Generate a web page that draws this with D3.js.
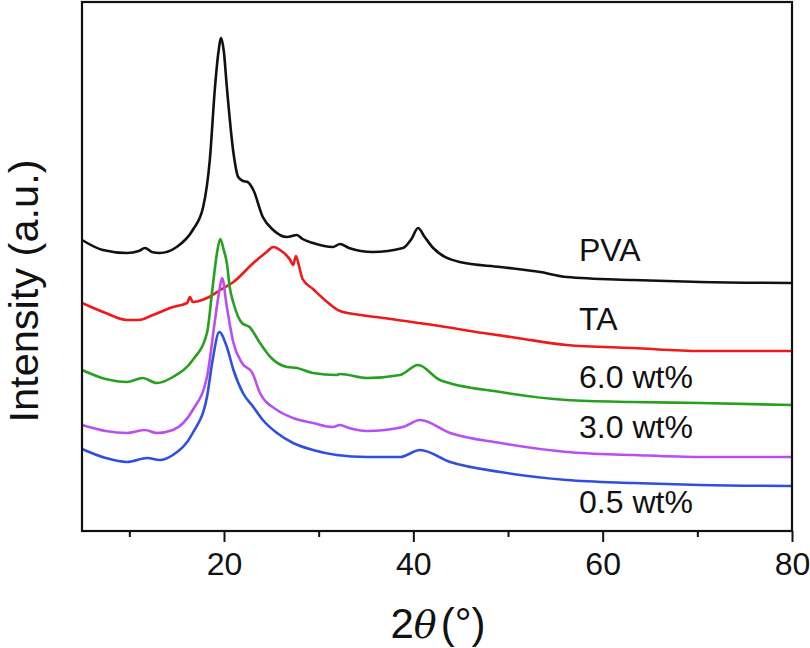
<!DOCTYPE html>
<html>
<head>
<meta charset="utf-8">
<script src="https://cdn.jsdelivr.net/npm/d3@7/dist/d3.min.js"></script>
<style>
  html, body { margin: 0; padding: 0; background: #fff; }
  svg { display: block; }
  text { font-family: "Liberation Sans", Arial, Helvetica, sans-serif; fill: #111; }
</style>
</head>
<body>
<svg id="chart" width="810" height="648"></svg>
<script>
// 2θ (degrees) and intensity (a.u.)
const seriesNames = ["PVA", "TA", "6.0 wt%", "3.0 wt%", "0.5 wt%"];
const seriesColors = ["#111111", "#f01818", "#27a020", "#b94ff0", "#2f4fe0"];

const pvaData = [
  [5.0,291],[7.2,281],[9.75,278],[11.0,280],[11.65,283],[12.4,279],[13.2,278],[15.0,284],[16.7,301],
  [17.8,324],[18.5,371],[19.05,444],[19.4,478],[19.7,493],[20.0,478],[20.3,444],[21.0,378],
  [21.5,354],[22.0,350],[22.5,349],[23.1,341],[24.1,314],[25.2,301],[26.65,294],[27.7,296],
  [28.3,292],[29.4,288],[31.5,284],[32.25,287],[33.2,283],[35.7,279],[38.9,283],[39.8,292],[40.5,303],
  [41.2,294],[42.1,283],[44.9,269],[49.2,264],[53.4,259],[56.2,254],[63.2,251],[70.3,249],[80,248]
];
const taData = [
  [5.0,228],[7.5,218],[9.75,211],[11.0,211],[12.5,216],[14.6,224],[16.1,228],[16.4,234],[16.7,229],
  [18.2,233],[19.6,241],[21.0,249],[23.1,268],[24.5,279],[25.2,284],[26.2,279],[27.0,271],
  [27.3,266],[27.6,275],[27.9,266],[28.3,252],[29.4,242],[30.9,229],[32.25,220],[34.5,216],
  [36.8,213],[42.1,206],[47.4,198],[51.0,193],[56.2,186],[63.2,183],[70.3,180],[80,180]
];
const wt60Data = [
  [5.0,161],[7.5,152],[9.75,149],[11.4,153],[12.9,148],[14.6,154],[16.7,171],[18.2,198],
  [18.8,244],[19.26,278],[19.6,292],[20.0,280],[20.3,268],[20.6,244],[21.0,228],[21.9,208],
  [22.7,204],[23.8,188],[24.9,174],[26.65,164],[27.7,163],[29.4,158],[31.9,156],[32.25,157],
  [35.1,153],[38.6,156],[40.5,166],[42.8,151],[49.2,139],[56.2,131],[63.2,129],[70.3,128],[80,126]
];
const wt30Data = [
  [5.0,106],[7.5,100],[9.75,98],[11.65,101],[12.9,98],[14.6,101],[16.7,121],[18.2,154],
  [19.05,211],[19.5,240],[19.8,253],[20.3,224],[21.0,188],[21.9,168],[23.0,158],[23.8,138],
  [25.6,121],[27.3,113],[29.4,108],[31.5,104],[32.25,106],[33.2,103],[35.1,100],[38.9,104],
  [40.7,111],[43.9,98],[49.2,88],[56.2,79],[63.2,76],[70.3,74],[80,74]
];
const wt05Data = [
  [5.0,82],[7.5,73],[9.75,69],[11.9,73],[13.2,71],[14.6,76],[16.7,98],[18.2,134],[18.8,171],
  [19.5,199],[20.3,184],[21.0,161],[22.0,138],[23.1,124],[24.1,111],[25.6,98],[27.3,88],
  [29.4,81],[31.9,76],[35.1,74],[38.6,74],[40.7,81],[43.9,69],[49.2,59],[56.2,51],[63.2,48],
  [70.3,46],[80,45]
];
const allSeries = [pvaData, taData, wt60Data, wt30Data, wt05Data];

const xMajorTicks = [20, 40, 60, 80];
const xMinorTicks = [10, 30, 50, 70];
const xDomain = [5, 80];
const yDomain = [0, 529];

// label anchors (data coords) for series labels
const labelX = [57.5, 57.5, 57.5, 57.5, 57.5];
const labelY = [270, 201, 143, 93, 18];

const svg = d3.select("#chart");
const mLeft = 82, mRight = 792, mTop = 2, mBottom = 531;

const x = d3.scaleLinear().domain(xDomain).range([mLeft, mRight]);
const y = d3.scaleLinear().domain(yDomain).range([mBottom, mTop]);

const line = d3.line()
  .x(d => x(d[0]))
  .y(d => y(d[1]))
  .curve(d3.curveMonotoneX);

const g = svg.append("g");
allSeries.forEach((data, i) => {
  g.append("path")
    .datum(data)
    .attr("fill", "none")
    .attr("stroke", seriesColors[i])
    .attr("stroke-width", 2.6)
    .attr("stroke-linejoin", "round")
    .attr("d", line);
});

// frame
svg.append("rect")
  .attr("x", mLeft).attr("y", mTop)
  .attr("width", mRight - mLeft).attr("height", mBottom - mTop)
  .attr("fill", "none").attr("stroke", "#111").attr("stroke-width", 2.2);

// x axis (major ticks labelled, minor ticks unlabelled)
const xAxis = d3.axisBottom(x).tickValues(xMajorTicks).tickSize(11).tickPadding(10).tickFormat(d3.format("d"));
const ax = svg.append("g").attr("transform", `translate(0,${mBottom})`).call(xAxis);
ax.select(".domain").remove();
ax.selectAll(".tick line").attr("stroke", "#111").attr("stroke-width", 2);
ax.selectAll(".tick text").attr("font-size", 32).attr("fill", "#111")
  .attr("font-family", "'Liberation Sans', Arial, sans-serif");

const xAxisMinor = d3.axisBottom(x).tickValues(xMinorTicks).tickSize(6).tickFormat("");
const axm = svg.append("g").attr("transform", `translate(0,${mBottom})`).call(xAxisMinor);
axm.select(".domain").remove();
axm.selectAll(".tick line").attr("stroke", "#111").attr("stroke-width", 2);

// series labels
seriesNames.forEach((name, i) => {
  svg.append("text")
    .attr("x", x(labelX[i]))
    .attr("y", y(labelY[i]))
    .attr("font-size", 32)
    .text(name);
});

// x axis title
const xt = svg.append("text")
  .attr("x", (mLeft + mRight) / 2 + 1)
  .attr("y", 638)
  .attr("text-anchor", "middle")
  .attr("font-size", 42);
xt.append("tspan").text("2");
xt.append("tspan").attr("font-style", "italic").attr("font-family", "'DejaVu Serif', serif").attr("font-size", 38).text("θ");
xt.append("tspan").attr("dx", 4).text("(°)");

// y axis title
svg.append("text")
  .attr("transform", "translate(38,291) rotate(-90)")
  .attr("text-anchor", "middle")
  .attr("font-size", 40)
  .attr("textLength", 263)
  .attr("lengthAdjust", "spacingAndGlyphs")
  .text("Intensity (a.u.)");
</script>
</body>
</html>
